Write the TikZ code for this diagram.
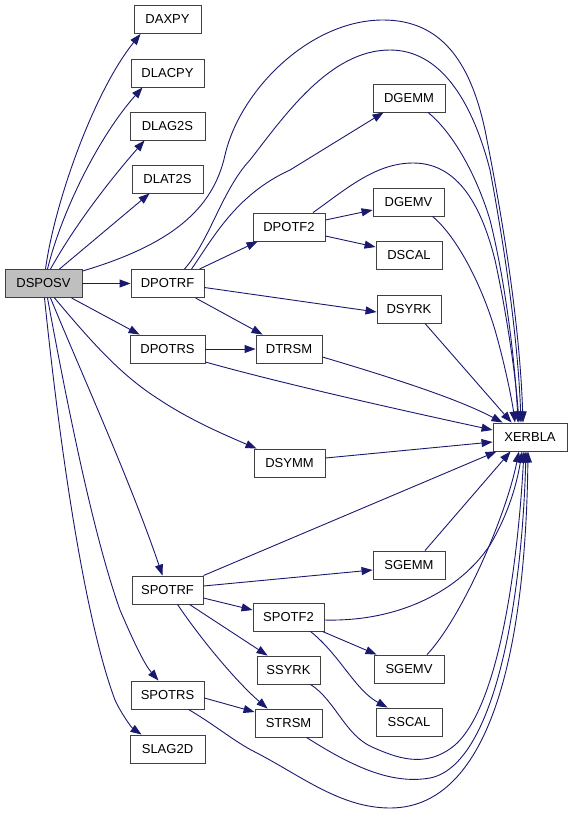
\documentclass[tikz,border=0pt]{standalone}
\usepackage{fontspec}
\setmainfont{Liberation Sans}
\usetikzlibrary{arrows.meta}
\definecolor{edgecol}{HTML}{191970}
\definecolor{rootfill}{HTML}{BFBFBF}
\begin{document}
\begin{tikzpicture}[x=1pt,y=-1pt,
  box/.style={draw=black!75, line width=0.9pt, minimum height=28pt, inner sep=0pt,
    font=\fontsize{13}{15}\selectfont, fill=white},
  edge/.style={draw=edgecol, line width=0.9pt, -{Triangle[length=11pt,width=8pt]}}]
\useasboundingbox (0,0) rectangle (573,815);
% nodes
\node[box, fill=rootfill, minimum width=77pt] (DSPOSV) at (43.5,283.5) {DSPOSV};
\node[box, minimum width=67pt] (DAXPY)  at (167.5,19.5) {DAXPY};
\node[box, minimum width=73pt] (DLACPY) at (167.5,73) {DLACPY};
\node[box, minimum width=75pt] (DLAG2S) at (167.5,126) {DLAG2S};
\node[box, minimum width=71pt] (DLAT2S) at (167.5,179) {DLAT2S};
\node[box, minimum width=73pt] (DPOTRF) at (167.5,283.5) {DPOTRF};
\node[box, minimum width=75pt] (DPOTRS) at (167.5,349) {DPOTRS};
\node[box, minimum width=71pt] (DSYMM)  at (289.5,463) {DSYMM};
\node[box, minimum width=71pt] (SPOTRF) at (167.5,590) {SPOTRF};
\node[box, minimum width=73pt] (SPOTRS) at (167.5,695) {SPOTRS};
\node[box, minimum width=75pt] (SLAG2D) at (167.5,749) {SLAG2D};
\node[box, minimum width=72pt] (DGEMM)  at (409,98) {DGEMM};
\node[box, minimum width=72pt] (DPOTF2) at (289,227) {DPOTF2};
\node[box, minimum width=71pt] (DGEMV)  at (408.5,202) {DGEMV};
\node[box, minimum width=66pt] (DSCAL)  at (409,255) {DSCAL};
\node[box, minimum width=64pt] (DSYRK)  at (409,309) {DSYRK};
\node[box, minimum width=66pt] (DTRSM)  at (289,349) {DTRSM};
\node[box, minimum width=74pt] (XERBLA) at (530,437) {XERBLA};
\node[box, minimum width=72pt] (SGEMM)  at (409,565) {SGEMM};
\node[box, minimum width=71pt] (SPOTF2) at (288.5,617) {SPOTF2};
\node[box, minimum width=63pt] (SSYRK)  at (288.5,670) {SSYRK};
\node[box, minimum width=70pt] (SGEMV)  at (409,669) {SGEMV};
\node[box, minimum width=66pt] (SSCAL)  at (409,722) {SSCAL};
\node[box, minimum width=67pt] (STRSM)  at (288.5,723) {STRSM};
% edges from DSPOSV
\draw[edge] ([xshift=2]DSPOSV.north) .. controls (55,200) and (95,90) .. ([xshift=7]DAXPY.south west);
\draw[edge] ([xshift=4]DSPOSV.north) .. controls (62,210) and (100,135) .. ([xshift=12]DLACPY.south west);
\draw[edge] ([xshift=7]DSPOSV.north) .. controls (75,225) and (110,180) .. ([xshift=15]DLAG2S.south west);
\draw[edge] ([xshift=16]DSPOSV.north) -- ([xshift=18]DLAT2S.south west);
\draw[edge] ([yshift=-2]DSPOSV.north east) .. controls (170,245) and (213,210) .. (225,155)
  .. controls (240,90) and (310,20) .. (383,20)
  .. controls (440,20) and (470,60) .. (485,130)
  .. controls (505,230) and (520,330) .. ([xshift=-7]XERBLA.north);
\draw[edge] (DSPOSV.east) -- (DPOTRF.west);
\draw[edge] ([xshift=28]DSPOSV.south) -- ([xshift=10]DPOTRS.north west);
\draw[edge] ([xshift=11]DSPOSV.south) .. controls (90,340) and (120,375) .. (160,400)
  .. controls (190,420) and (225,435) .. ([xshift=3]DSYMM.north west);
\draw[edge] ([xshift=7]DSPOSV.south) .. controls (80,370) and (130,480) .. ([xshift=-5]SPOTRF.north);
\draw[edge] ([xshift=4]DSPOSV.south) .. controls (70,420) and (95,540) .. (120,610)
  .. controls (135,645) and (145,665) .. ([xshift=-9]SPOTRS.north);
\draw[edge] ([xshift=1]DSPOSV.south) .. controls (60,450) and (85,620) .. (115,700)
  .. controls (122,715) and (132,728) .. ([xshift=12]SLAG2D.north west);
% DPOTRF
\draw[edge] ([xshift=17]DPOTRF.north) .. controls (210,240) and (222,190) .. (250,160)
  .. controls (285,115) and (330,50) .. (390,50)
  .. controls (440,50) and (472,100) .. (490,170)
  .. controls (505,250) and (518,340) .. ([xshift=-9]XERBLA.north);
\draw[edge] ([xshift=24]DPOTRF.north) .. controls (212,240) and (235,195) .. (290,170) -- ([xshift=11]DGEMM.south west);
\draw[edge] ([xshift=32]DPOTRF.north) -- ([xshift=5]DPOTF2.south west);
\draw[edge] ([yshift=-4]DPOTRF.east) -- ([yshift=-3]DSYRK.west);
\draw[edge] ([xshift=28]DPOTRF.south) -- ([xshift=7]DTRSM.north west);
% DPOTRS
\draw[edge] (DPOTRS.east) -- (DTRSM.west);
\draw[edge] ([yshift=-13]DPOTRS.east) .. controls (280,383) and (400,410) .. ([yshift=7]XERBLA.west);
% DPOTF2
\draw[edge] ([yshift=7]DPOTF2.east) -- ([yshift=-8]DGEMV.west);
\draw[edge] ([yshift=-9]DPOTF2.east) -- ([yshift=8]DSCAL.west);
\draw[edge] ([xshift=24]DPOTF2.north) .. controls (345,190) and (375,163) .. (413,163)
  .. controls (455,163) and (480,200) .. (495,260)
  .. controls (508,320) and (516,380) .. ([xshift=-11]XERBLA.north);
% others into XERBLA from above/left
\draw[edge] ([xshift=19]DGEMM.south) .. controls (450,130) and (475,170) .. (490,220)
  .. controls (505,280) and (515,360) .. ([xshift=-12]XERBLA.north);
\draw[edge] ([xshift=24]DGEMV.south) .. controls (455,235) and (480,280) .. (495,330)
  .. controls (505,365) and (512,400) .. ([xshift=-15]XERBLA.north);
\draw[edge] ([xshift=16]DSYRK.south) -- ([xshift=19]XERBLA.north west);
\draw[edge] ([yshift=-8]DTRSM.east) .. controls (400,380) and (460,400) .. ([xshift=10]XERBLA.north west);
\draw[edge] ([yshift=5]DSYMM.east) -- ([yshift=-5]XERBLA.west);
% SPOTRF
\draw[edge] (SPOTRF.north east) -- ([xshift=4]XERBLA.south west);
\draw[edge] ([yshift=4]SPOTRF.east) -- ([yshift=-5]SGEMM.west);
\draw[edge] ([yshift=-8]SPOTRF.east) -- ([yshift=7]SPOTF2.west);
\draw[edge] ([xshift=22]SPOTRF.south) -- ([xshift=11]SSYRK.north west);
\draw[edge] ([xshift=10]SPOTRF.south) .. controls (205,645) and (240,685) .. ([xshift=13]STRSM.north west);
% SPOTF2
\draw[edge] ([yshift=-3]SPOTF2.east) .. controls (400,622) and (460,590) .. (490,545)
  .. controls (505,520) and (516,490) .. ([xshift=-8]XERBLA.south);
\draw[edge] ([xshift=-2]SPOTF2.south east) -- ([xshift=3]SGEMV.north west);
\draw[edge] ([xshift=-14]SPOTF2.south east) .. controls (340,655) and (355,690) .. ([xshift=12]SSCAL.north west);
% S-level into XERBLA
\draw[edge] ([xshift=16]SGEMM.north) -- ([xshift=18]XERBLA.south west);
\draw[edge] ([xshift=18]SGEMV.north) .. controls (460,620) and (505,520) .. ([xshift=-11]XERBLA.south);
\draw[edge] ([xshift=22]SSYRK.south) .. controls (335,700) and (345,735) .. (372,747)
  .. controls (395,757) and (425,770) .. (455,745)
  .. controls (500,705) and (518,560) .. ([xshift=-6]XERBLA.south);
\draw[edge] ([xshift=18]STRSM.south) .. controls (350,765) and (390,785) .. (430,778)
  .. controls (495,765) and (522,600) .. ([xshift=-4]XERBLA.south);
% SPOTRS
\draw[edge] ([yshift=-3]SPOTRS.east) -- ([yshift=11]STRSM.west);
\draw[edge] ([xshift=21]SPOTRS.south) .. controls (215,725) and (235,742) .. (255,752)
  .. controls (300,775) and (340,808) .. (390,808)
  .. controls (500,808) and (526,620) .. ([xshift=-2]XERBLA.south);
\end{tikzpicture}
\end{document}
